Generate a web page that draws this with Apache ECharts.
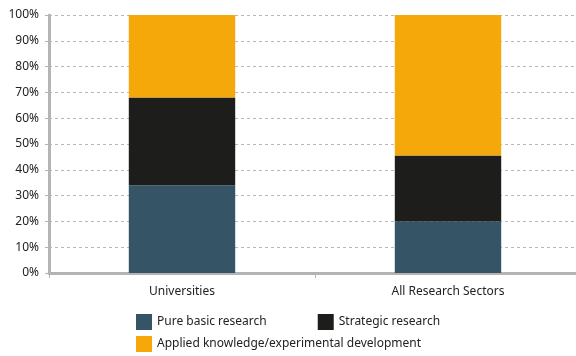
<!DOCTYPE html>
<html>
<head>
<meta charset="utf-8">
<script src="https://cdn.jsdelivr.net/npm/echarts@6/dist/echarts.min.js"></script>
<style>
  html, body { margin: 0; padding: 0; background: #fff; }
  #chart { width: 576px; height: 356px; }
</style>
</head>
<body>
<div id="chart"></div>
<script>
// categories and shares (%)
const categories = ['Universities', 'All Research Sectors']
const pureBasic = [34, 20]
const strategic = [34, 25.5]
const applied = [32, 54.5]
const yTicks = [0, 10, 20, 30, 40, 50, 60, 70, 80, 90, 100]

const chart = echarts.init(document.getElementById('chart'))
const font = 'Noto Sans'

const option = {
  animation: false,
  textStyle: { fontFamily: font },
  grid: { left: 49, width: 532, top: 15, bottom: 83, containLabel: false, outerBoundsMode: 'none' },
  legend: [
    {
      data: ['Pure basic research', 'Strategic research'],
      left: 136,
      top: 314,
      padding: 0,
      itemWidth: 16,
      itemHeight: 16,
      itemGap: 51,
      icon: 'rect',
      textStyle: { color: '#222', fontSize: 12, fontFamily: font }
    },
    {
      data: ['Applied knowledge/experimental development'],
      left: 136,
      top: 336,
      padding: 0,
      itemWidth: 16,
      itemHeight: 16,
      icon: 'rect',
      textStyle: { color: '#222', fontSize: 12, fontFamily: font }
    }
  ],
  xAxis: {
    type: 'category',
    data: categories,
    boundaryGap: true,
    axisLine: { lineStyle: { color: '#b4b4b4', width: 3 } },
    axisTick: { show: true, length: 5, lineStyle: { color: '#b4b4b4', width: 1 } },
    axisLabel: { color: '#222', fontSize: 12, margin: 13 }
  },
  yAxis: {
    type: 'value',
    min: yTicks[0],
    max: yTicks[yTicks.length - 1],
    interval: 10,
    axisLine: { show: true, lineStyle: { color: '#b4b4b4', width: 3 } },
    axisTick: { show: true, length: 4, lineStyle: { color: '#b4b4b4' } },
    axisLabel: { color: '#222', fontSize: 12, margin: 10, formatter: '{value}%' },
    splitLine: { show: true, lineStyle: { color: '#b8b8b8', type: [3, 3], width: 1 } }
  },
  series: [
    {
      name: 'Pure basic research',
      type: 'bar',
      stack: 'total',
      barWidth: '40%',
      itemStyle: { color: '#355566' },
      data: pureBasic
    },
    {
      name: 'Strategic research',
      type: 'bar',
      stack: 'total',
      itemStyle: { color: '#1d1d1b' },
      data: strategic
    },
    {
      name: 'Applied knowledge/experimental development',
      type: 'bar',
      stack: 'total',
      itemStyle: { color: '#f5a80a' },
      data: applied
    }
  ]
}
chart.setOption(option)
</script>
</body>
</html>
